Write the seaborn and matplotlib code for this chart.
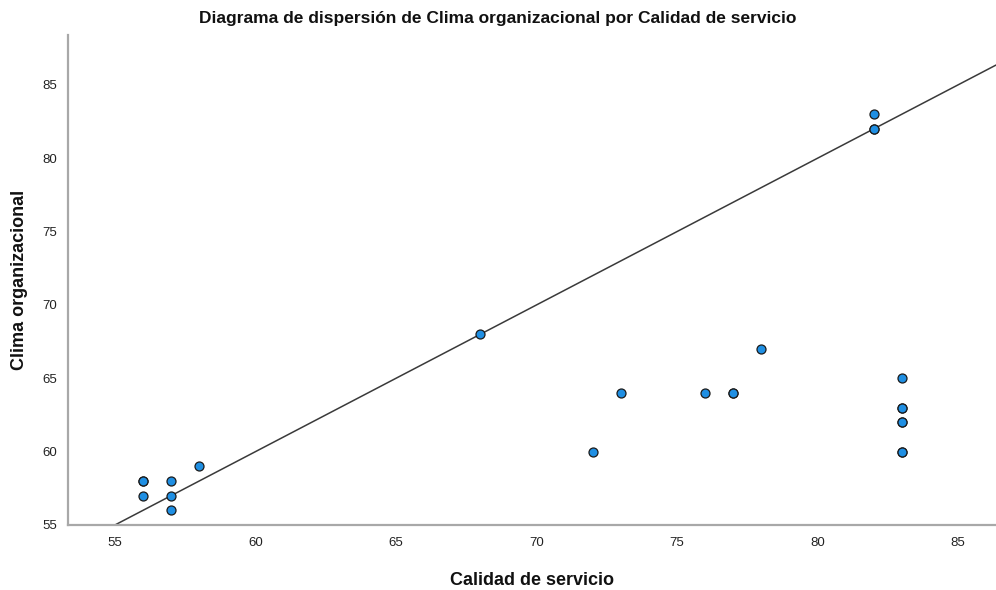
import matplotlib
matplotlib.use("Agg")
import matplotlib.pyplot as plt
import seaborn as sns
import pandas as pd

# Calidad de servicio (x) and Clima organizacional (y) per respondent
calidad = [56, 56, 56, 57, 57, 57, 58, 68, 72, 73, 76, 77, 77, 78,
           82, 82, 82, 83, 83, 83, 83, 83, 83, 83]
clima = [58, 58, 57, 58, 57, 56, 59, 68, 60, 64, 64, 64, 64, 67,
         83, 82, 82, 65, 63, 63, 62, 62, 60, 60]

x_ticks = [55, 60, 65, 70, 75, 80, 85]
y_ticks = [55, 60, 65, 70, 75, 80, 85]

df = pd.DataFrame({"Calidad de servicio": calidad, "Clima organizacional": clima})

sns.set_style("white")
plt.rcParams["font.family"] = ["Liberation Sans", "DejaVu Sans"]

fig = plt.figure(figsize=(9.96, 5.9), dpi=100)
ax = fig.add_axes([0.0683, 0.1102, 0.9317, 0.8305])

xmin, xmax = 53.33, 86.35
ymin, ymax = 55.0, 88.4

# identity reference line y = x
ax.plot([xmin, xmax], [xmin, xmax], color="#3a3a3a", lw=1.1, zorder=1)

sns.scatterplot(data=df, x="Calidad de servicio", y="Clima organizacional",
                ax=ax, s=42, color="#1f8fe3", edgecolor="#1a1a1a",
                linewidth=0.9, zorder=3, clip_on=False)

ax.set_xlim(xmin, xmax)
ax.set_ylim(ymin, ymax)
ax.set_xticks(x_ticks)
ax.set_yticks(y_ticks)

ax.set_xticklabels([str(v) for v in x_ticks], fontsize=9.5, color="#222222")
ax.set_yticklabels([str(v) for v in y_ticks], fontsize=9.5, color="#222222")
ax.tick_params(axis="x", length=0, pad=9)
ax.tick_params(axis="y", length=0, pad=8)

ax.set_xlabel("Calidad de servicio", fontsize=13, fontweight="bold",
              labelpad=16, color="#111111")
ax.set_ylabel("Clima organizacional", fontsize=13, fontweight="bold",
              labelpad=10, color="#111111")

for side in ("top", "right"):
    ax.spines[side].set_visible(False)
for side in ("left", "bottom"):
    ax.spines[side].set_color("#a8a8a8")
    ax.spines[side].set_linewidth(1.6)

fig.text(0.5, 0.968, "Diagrama de dispersión de Clima organizacional por Calidad de servicio",
         ha="center", va="center", fontsize=12.5, fontweight="bold", color="#111111")

fig.savefig("out.png", dpi=100)
